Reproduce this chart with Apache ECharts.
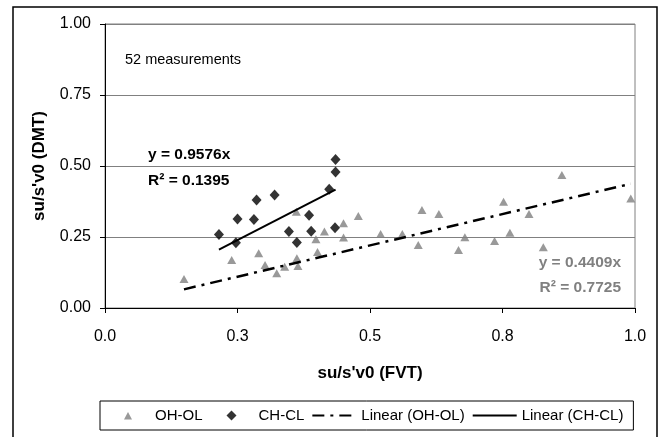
<!DOCTYPE html>
<html>
<head>
<meta charset="utf-8">
<script src="https://cdn.jsdelivr.net/npm/echarts@6/dist/echarts.min.js"></script>
<style>html,body{margin:0;padding:0;background:#fff}#c{width:664px;height:437px}</style>
</head>
<body>
<div id="c"></div>
<script>
// OH-OL measurements (FVT, DMT)
const ohX = [0.149,0.239,0.290,0.302,0.324,0.339,0.361,0.362,0.364,0.398,0.401,0.414,0.450,0.450,0.478,
             0.520,0.561,0.598,0.591,0.630,0.667,0.679,0.735,0.752,0.764,0.800,0.827,0.862,0.992];
const ohY = [0.102,0.169,0.193,0.151,0.122,0.145,0.339,0.175,0.148,0.242,0.197,0.269,0.298,0.248,0.324,
             0.261,0.261,0.345,0.222,0.331,0.204,0.249,0.236,0.374,0.265,0.331,0.214,0.468,0.386];
// CH-CL measurements
const chX = [0.215,0.250,0.247,0.286,0.281,0.320,0.347,0.362,0.385,0.389,0.423,0.435,0.435,0.434];
const chY = [0.259,0.313,0.230,0.380,0.312,0.398,0.269,0.231,0.327,0.270,0.418,0.479,0.523,0.283];
// Trend lines (through origin)
const ohSlope = 0.4409, ohR2 = '0.7725';
const chSlope = 0.9576, chR2 = '0.1395';
const xTickLabels = ['0.0','0.3','0.5','0.8','1.0'];
const yTickLabels = ['0.00','0.25','0.50','0.75','1.00'];
const seriesNames = ['OH-OL','CH-CL','Linear (OH-OL)','Linear (CH-CL)'];

const zip = (a,b) => a.map((v,i)=>[v,b[i]]);
const trend = (xs, k) => { const lo=Math.min(...xs), hi=Math.max(...xs); return [[lo,k*lo],[hi,k*hi]]; };

const FONT = '"Liberation Sans", Arial, sans-serif';
// legend icons drawn centred inside a 44x10 box (moveTo points fix the bounding box)
const TRI = 'path://M0,0M44,10M18,9L22,1.5L26,9Z';
const DIA = 'path://M0,0M44,10M22,0L27,5L22,10L17,5Z';
const chart = echarts.init(document.getElementById('c'), null, {renderer:'canvas'});
chart.setOption({
  animation:false,
  backgroundColor:'#fff',
  textStyle:{fontFamily:FONT},
  grid:{left:105,right:29,top:24,bottom:129,show:true,borderColor:'#808080',borderWidth:1},
  xAxis:{type:'value',min:0,max:1,interval:0.25,
    name:"su/s'v0 (FVT)",nameLocation:'middle',nameGap:57,
    nameTextStyle:{fontFamily:FONT,fontSize:17,fontWeight:'bold',color:'#000'},
    axisLine:{lineStyle:{color:'#000',width:1}},
    axisTick:{show:true,length:5,inside:false,lineStyle:{color:'#000'}},
    splitLine:{show:false},
    axisLabel:{margin:21,fontSize:16,color:'#000',fontFamily:FONT,
      formatter:v=>xTickLabels[Math.round(v/0.25)]}},
  yAxis:{type:'value',min:0,max:1,interval:0.25,
    name:"su/s'v0 (DMT)",nameLocation:'middle',nameGap:57,nameRotate:90,
    nameTextStyle:{fontFamily:FONT,fontSize:17,fontWeight:'bold',color:'#000'},
    axisLine:{show:true,lineStyle:{color:'#000',width:1}},
    axisTick:{show:true,length:5,lineStyle:{color:'#000'}},
    splitLine:{show:true,lineStyle:{color:'#808080',width:1}},
    axisLabel:{margin:14,fontSize:16,color:'#000',fontFamily:FONT,
      formatter:v=>yTickLabels[Math.round(v/0.25)]}},
  legend:{left:100,top:401,orient:'horizontal',itemWidth:44,itemHeight:10,itemGap:7,
    padding:[7,10,7,6],borderColor:'#000',borderWidth:1,symbolKeepAspect:false,
    textStyle:{fontFamily:FONT,fontSize:15,color:'#000'},
    data:[
      {name:seriesNames[0],icon:TRI},
      {name:seriesNames[1],icon:DIA},
      {name:seriesNames[2],itemStyle:{opacity:0}},
      {name:seriesNames[3],itemStyle:{opacity:0}}
    ]},
  graphic:[
    {type:'rect',z:-1,shape:{x:13,y:7,width:644,height:440},style:{fill:'none',stroke:'#000',lineWidth:1.5}},
    {type:'text',left:125,top:52,style:{text:'52 measurements',font:'14.5px '+FONT,fill:'#000'}},
    {type:'text',left:148,top:147,style:{text:'y = '+chSlope+'x',font:'bold 15.5px '+FONT,fill:'#000'}},
    {type:'text',left:148,top:173,style:{text:'R² = '+chR2,font:'bold 15.5px '+FONT,fill:'#000'}},
    {type:'text',right:43,top:255,style:{text:'y = '+ohSlope+'x',font:'bold 15.5px '+FONT,fill:'#808080',align:'right'}},
    {type:'text',right:43,top:280,style:{text:'R² = '+ohR2,font:'bold 15.5px '+FONT,fill:'#808080',align:'right'}}
  ],
  series:[
    {name:seriesNames[0],type:'scatter',symbol:'triangle',symbolSize:[9,8],
      itemStyle:{color:'#808080'},data:zip(ohX,ohY),z:2},
    {name:seriesNames[1],type:'scatter',symbol:'diamond',symbolSize:[10,11],
      itemStyle:{color:'#000'},data:zip(chX,chY),z:3},
    {name:seriesNames[2],type:'line',symbol:'none',data:trend(ohX,ohSlope),z:4,
      lineStyle:{color:'#000',width:2.5,type:[12,6,3,6]},itemStyle:{color:'#000'}},
    {name:seriesNames[3],type:'line',symbol:'none',data:trend(chX,chSlope),z:4,
      lineStyle:{color:'#000',width:2,type:'solid'},itemStyle:{color:'#000'}}
  ]
});
</script>
</body>
</html>
